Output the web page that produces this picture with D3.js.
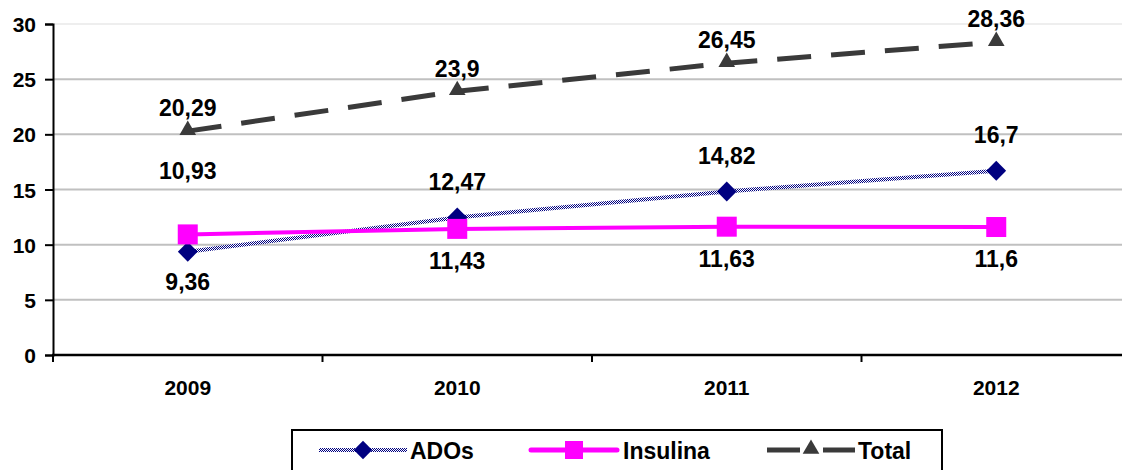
<!DOCTYPE html>
<html>
<head>
<meta charset="utf-8">
<script src="https://cdn.jsdelivr.net/npm/d3@7"></script>
<style>
  body { margin: 0; background: #fff; }
  text { font-family: "Liberation Sans", Arial, sans-serif; font-weight: bold; fill: #000; }
</style>
</head>
<body>
<svg id="chart" width="1122" height="470"></svg>
<script>
const years = ["2009", "2010", "2011", "2012"];
const ados = [9.36, 12.47, 14.82, 16.7];
const insulina = [10.93, 11.43, 11.63, 11.6];
const total = [20.29, 23.9, 26.45, 28.36];
const yTicks = [0, 5, 10, 15, 20, 25, 30];
const seriesNames = ["ADOs", "Insulina", "Total"];

// label side per point: "above" / "below" / "high" (pushed further up)
const adosSide = ["below", "above", "above", "above"];
const insSide = ["high", "below", "below", "below"];
const totSide = ["above", "above", "above", "above"];

const fmt = v => String(v).replace(".", ",");

const svg = d3.select("#chart");
const x = d3.scaleBand().domain(years).range([53, 1131]);
const y = d3.scaleLinear().domain([0, 30]).range([355, 24]);
const cx = d => x(d) + x.bandwidth() / 2;

// checker pattern for the ADOs line
const defs = svg.append("defs");
const pat = defs.append("pattern").attr("id", "chk")
  .attr("patternUnits", "userSpaceOnUse").attr("width", 2).attr("height", 2);
pat.append("rect").attr("width", 2).attr("height", 2).attr("fill", "#fff");
pat.append("rect").attr("x", 0).attr("y", 0).attr("width", 1).attr("height", 1).attr("fill", "#000080");
pat.append("rect").attr("x", 1).attr("y", 1).attr("width", 1).attr("height", 1).attr("fill", "#000080");

// gridlines
svg.append("g").selectAll("line").data(yTicks.filter(t => t > 0)).join("line")
  .attr("x1", 53).attr("x2", 1122)
  .attr("y1", d => y(d)).attr("y2", d => y(d))
  .attr("stroke", d => d === 30 ? "#eeeeee" : "#c0c0c0").attr("stroke-width", 2);

// y axis
const yAxis = svg.append("g").attr("transform", "translate(53,0)")
  .call(d3.axisLeft(y).tickValues(yTicks).tickSize(8).tickPadding(9));
yAxis.select(".domain").attr("stroke", "#000").attr("stroke-width", 2);
yAxis.selectAll(".tick line").attr("stroke", "#000").attr("stroke-width", 2);
yAxis.selectAll("text").style("font-size", "21px").attr("dy", "0.36em");

// x axis
const xAxis = svg.append("g").attr("transform", "translate(0,355)")
  .call(d3.axisBottom(x).tickSize(0).tickPadding(25));
xAxis.select(".domain").remove();
xAxis.selectAll("text").style("font-size", "21px");
svg.append("line").attr("x1", 52).attr("x2", 1122).attr("y1", 355).attr("y2", 355)
  .attr("stroke", "#000").attr("stroke-width", 2.5);
const bounds = years.map(d => x(d)).concat([x.range()[1]]);
svg.append("g").selectAll("line").data(bounds).join("line")
  .attr("x1", d => d).attr("x2", d => d).attr("y1", 355).attr("y2", 362)
  .attr("stroke", "#000").attr("stroke-width", 2);

const line = d3.line().x((d, i) => cx(years[i])).y(d => y(d));
const tri = d3.symbol().type(d3.symbolTriangle).size(120);

// Total
svg.append("path").datum(total).attr("d", line).attr("fill", "none")
  .attr("stroke", "#3a3a3a").attr("stroke-width", 5).attr("stroke-dasharray", "34,20");
svg.append("g").selectAll("path").data(total).join("path")
  .attr("d", tri).attr("fill", "#3a3a3a")
  .attr("transform", (d, i) => `translate(${cx(years[i])},${y(d) - 1})`);

// ADOs
svg.append("path").datum(ados).attr("d", line).attr("fill", "none")
  .attr("stroke", "url(#chk)").attr("stroke-width", 4);
svg.append("g").selectAll("rect").data(ados).join("rect")
  .attr("x", -7).attr("y", -7).attr("width", 14).attr("height", 14)
  .attr("fill", "#000080")
  .attr("transform", (d, i) => `translate(${cx(years[i])},${y(d)}) rotate(45)`);

// Insulina
svg.append("path").datum(insulina).attr("d", line).attr("fill", "none")
  .attr("stroke", "#ff00ff").attr("stroke-width", 4);
svg.append("g").selectAll("rect").data(insulina).join("rect")
  .attr("x", -10).attr("y", -10).attr("width", 20).attr("height", 20)
  .attr("fill", "#ff00ff")
  .attr("transform", (d, i) => `translate(${cx(years[i])},${y(d)})`);

// value labels
function labels(vals, sides, off) {
  svg.append("g").selectAll("text").data(vals).join("text")
    .attr("x", (d, i) => cx(years[i]))
    .attr("y", (d, i) => y(d) + off[sides[i]])
    .attr("text-anchor", "middle").attr("dy", "0.36em")
    .style("font-size", "23px").text(d => fmt(d));
}
labels(total, totSide, { above: -23 });
labels(ados, adosSide, { above: -36, below: 30 });
labels(insulina, insSide, { high: -64, below: 32 });

// legend
const lg = svg.append("g");
lg.append("rect").attr("x", 292).attr("y", 430).attr("width", 650).attr("height", 50)
  .attr("fill", "#fff").attr("stroke", "#000").attr("stroke-width", 2);
const ly = 450;
const items = [
  { x0: 319, x1: 407, tx: 410 },
  { x0: 531, x1: 617, tx: 623 },
  { x0: 767, x1: 855, tx: 858 }
];
items.forEach((d, i) => d.name = seriesNames[i]);
const mid = d => (d.x0 + d.x1) / 2;
lg.append("line").attr("x1", items[0].x0).attr("x2", items[0].x1).attr("y1", ly).attr("y2", ly)
  .attr("stroke", "url(#chk)").attr("stroke-width", 4);
lg.append("rect").attr("x", -6.5).attr("y", -6.5).attr("width", 13).attr("height", 13)
  .attr("fill", "#000080").attr("transform", `translate(${mid(items[0])},${ly}) rotate(45)`);
lg.append("line").attr("x1", items[1].x0).attr("x2", items[1].x1).attr("y1", ly).attr("y2", ly)
  .attr("stroke", "#ff00ff").attr("stroke-width", 5).attr("stroke-linecap", "round");
lg.append("rect").attr("x", mid(items[1]) - 9).attr("y", ly - 9)
  .attr("width", 18).attr("height", 18).attr("fill", "#ff00ff");
lg.append("line").attr("x1", items[2].x0).attr("x2", items[2].x1).attr("y1", ly).attr("y2", ly)
  .attr("stroke", "#3a3a3a").attr("stroke-width", 5).attr("stroke-dasharray", "33,23");
lg.append("path").attr("d", tri).attr("fill", "#3a3a3a")
  .attr("transform", `translate(${mid(items[2])},${ly - 1})`);
lg.selectAll("text").data(items).join("text")
  .attr("x", d => d.tx).attr("y", ly + 1).attr("dy", "0.36em")
  .style("font-size", "23px").text(d => d.name);
</script>
</body>
</html>
